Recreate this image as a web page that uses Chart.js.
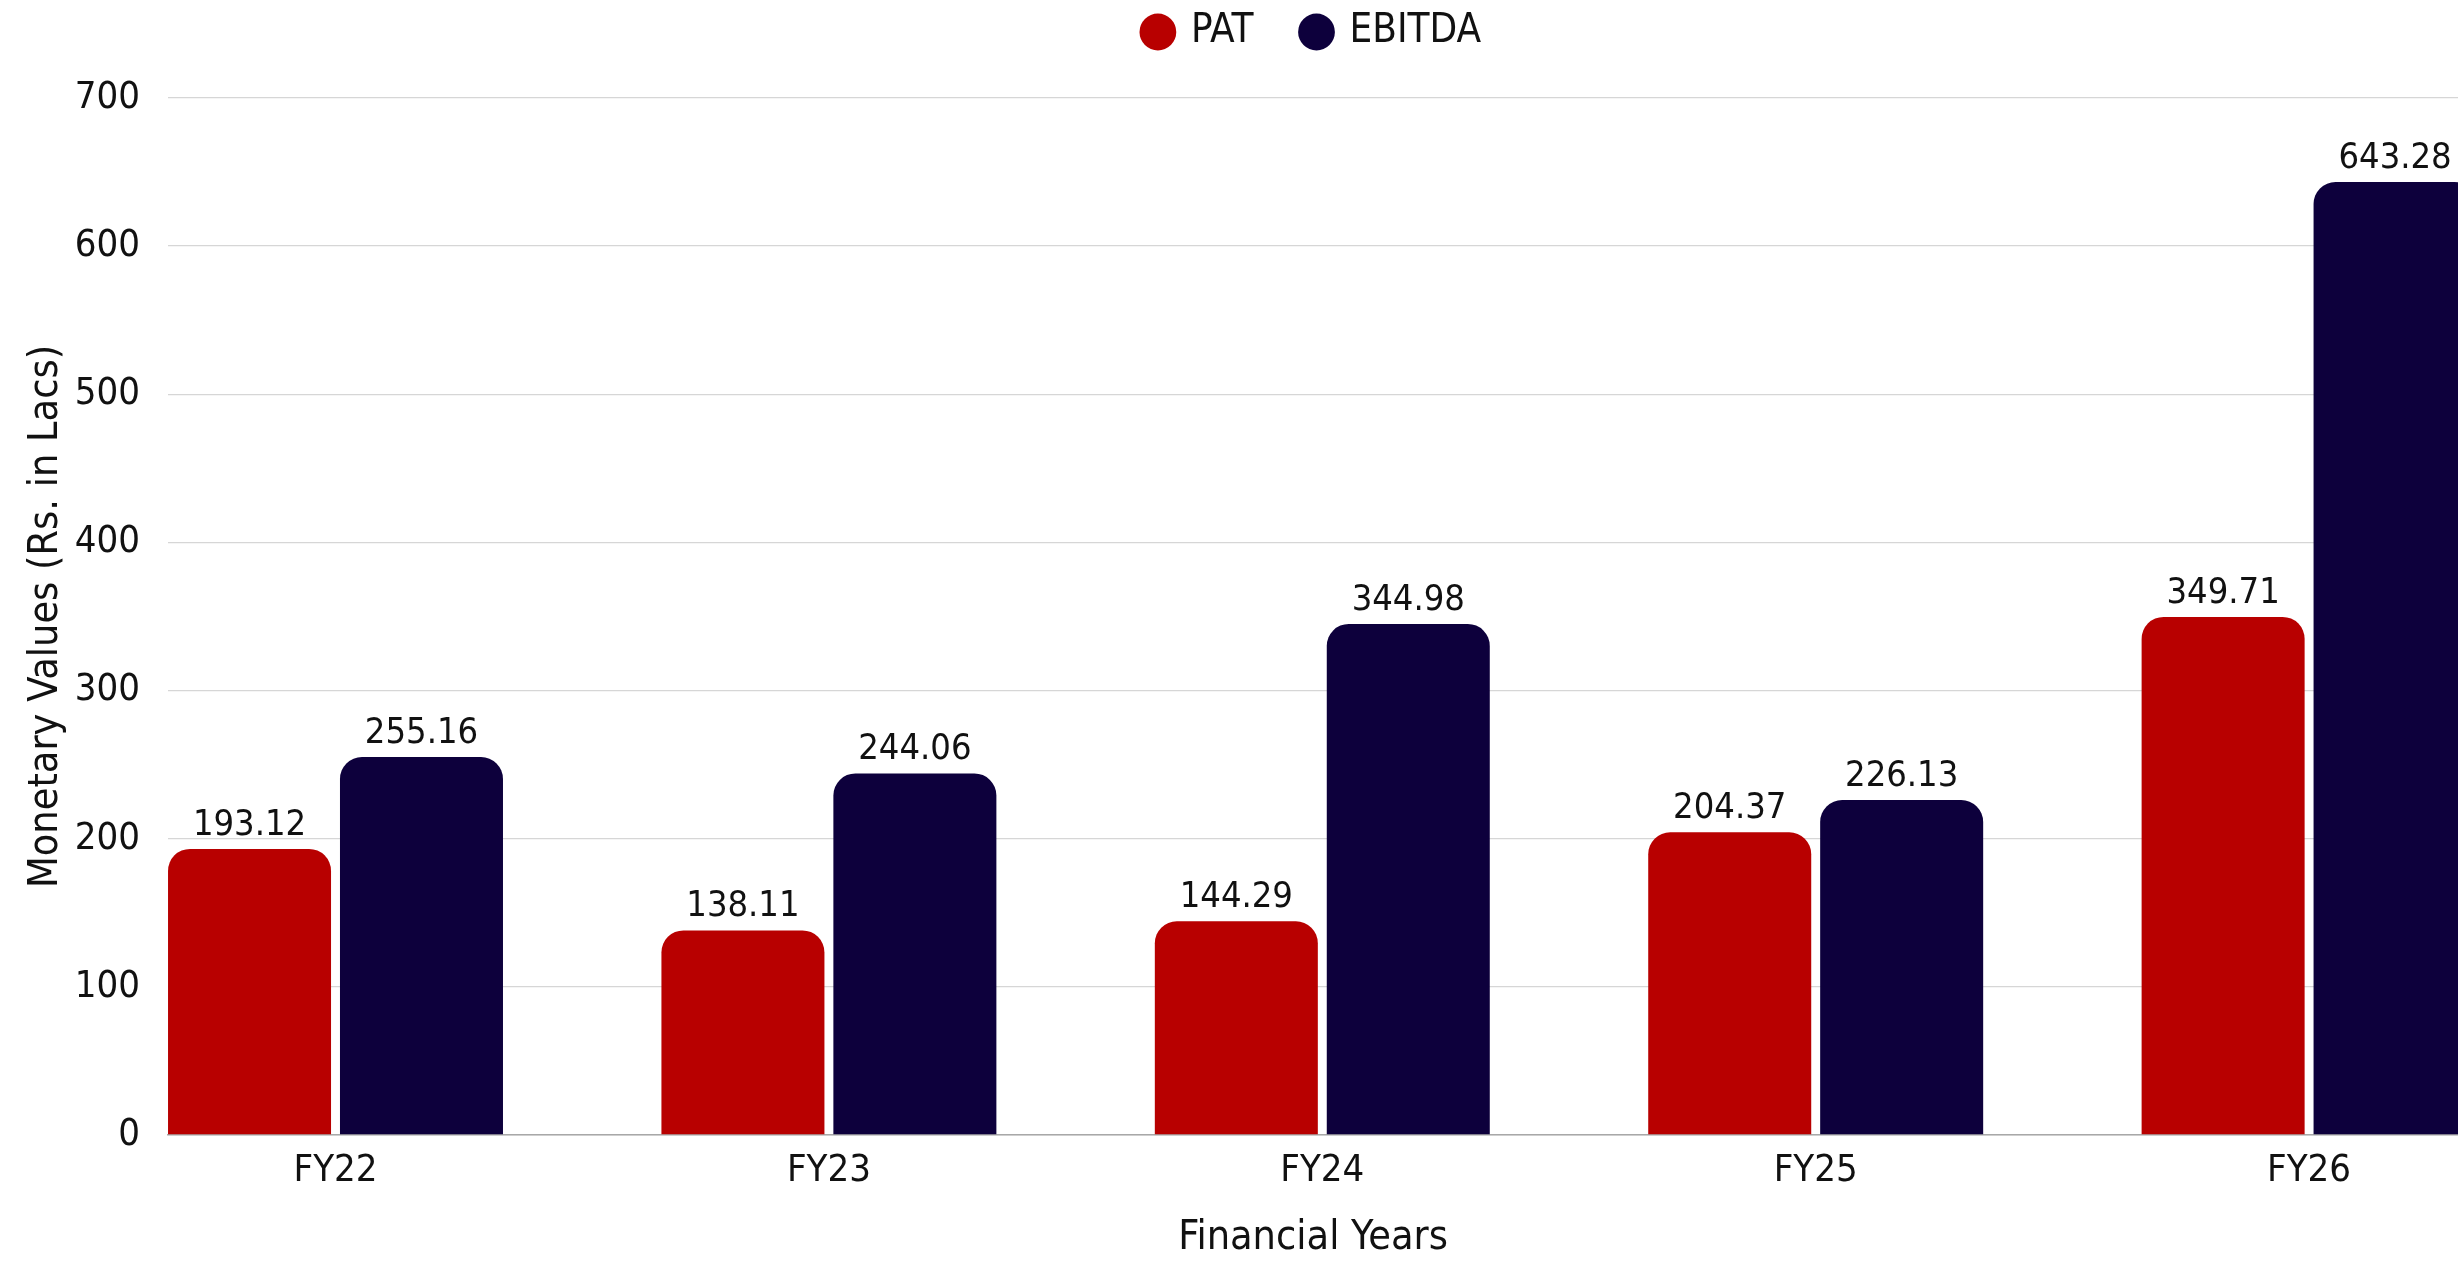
<!DOCTYPE html>
<html>
<head>
<meta charset="utf-8">
<script src="https://cdn.jsdelivr.net/npm/chart.js@4.4.1/dist/chart.umd.min.js"></script>
<style>
  html, body { margin: 0; padding: 0; background: #ffffff; overflow: hidden; }
  #wrap { width: 2458px; height: 1261px; position: relative; }
</style>
</head>
<body>
<div id="wrap"><canvas id="chart"></canvas></div>
<script>
// ---- data ----
const categories = ['FY22', 'FY23', 'FY24', 'FY25', 'FY26'];
const seriesNames = ['PAT', 'EBITDA'];
const patValues = [193.12, 138.11, 144.29, 204.37, 349.71];
const ebitdaValues = [255.16, 244.06, 344.98, 226.13, 643.28];
const yTickValues = [0, 100, 200, 300, 400, 500, 600, 700];
const xTitle = 'Financial Years';
const yTitle = 'Monetary Values (Rs. in Lacs)';

// ---- style ----
const FONT = "'Liberation Sans Narrow', 'DejaVu Sans Condensed', 'Liberation Sans', sans-serif";
const TEXT = '#111111';
const PAT_COLOR = '#b80000';
const EBITDA_COLOR = '#0d003c';

const valueLabels = {
  id: 'valueLabels',
  afterDatasetsDraw(chart) {
    const ctx = chart.ctx;
    ctx.save();
    ctx.font = '36px ' + FONT;
    ctx.fillStyle = TEXT;
    ctx.textAlign = 'center';
    ctx.textBaseline = 'alphabetic';
    chart.data.datasets.forEach((ds, di) => {
      const meta = chart.getDatasetMeta(di);
      meta.data.forEach((bar, i) => {
        ctx.fillText(ds.data[i].y.toFixed(2), bar.x, bar.y - 14);
      });
    });
    ctx.restore();
  }
};

const legendTweak = {
  id: 'legendTweak',
  beforeLayout(chart) {
    const lg = chart.legend;
    if (lg && !lg._tweaked) {
      const fit = lg.fit;
      lg.fit = function () { fit.call(this); this.height += 36; };
      lg._tweaked = true;
    }
  },
  afterLayout(chart) {
    const lg = chart.legend, ca = chart.chartArea;
    if (lg) { lg.left = ca.left; lg.right = ca.right; lg.width = ca.right - ca.left; }
  }
};

const toPoints = arr => arr.map((v, i) => ({ x: i, y: v }));

new Chart(document.getElementById('chart'), {
  type: 'bar',
  data: {
    datasets: [
      { label: seriesNames[0], data: toPoints(patValues), backgroundColor: PAT_COLOR,
        borderRadius: 22, borderSkipped: 'start', categoryPercentage: 0.697, barPercentage: 0.948 },
      { label: seriesNames[1], data: toPoints(ebitdaValues), backgroundColor: EBITDA_COLOR,
        borderRadius: 22, borderSkipped: 'start', categoryPercentage: 0.697, barPercentage: 0.948 }
    ]
  },
  options: {
    responsive: true,
    maintainAspectRatio: false,
    animation: false,
    devicePixelRatio: 1,
    layout: { padding: { top: -38, left: 0, right: 0, bottom: 0 } },
    plugins: {
      legend: {
        position: 'top',
        labels: {
          usePointStyle: true, pointStyle: 'circle', boxWidth: 26, boxHeight: 26,
          padding: 50, color: TEXT, font: { family: FONT, size: 40 }
        }
      },
      tooltip: { enabled: false }
    },
    scales: {
      x: {
        type: 'linear',
        offset: false,
        min: -0.3395,
        max: 4.3018,
        afterBuildTicks: s => { s.ticks = categories.map((c, i) => ({ value: i })); },
        afterFit: s => { s.height = 126; },
        grid: { display: true, offset: false, drawOnChartArea: false, drawTicks: false },
        border: { display: true, color: '#a8a8a8', width: 1.5 },
        ticks: {
          autoSkip: false, maxRotation: 0, padding: 13, color: TEXT,
          font: { family: FONT, size: 38 },
          callback: v => categories[v] !== undefined ? categories[v] : ''
        },
        title: { display: true, text: xTitle, color: TEXT, padding: { top: 0, bottom: 0 },
          font: { family: FONT, size: 41, lineHeight: 1.1 } }
      },
      y: {
        min: yTickValues[0],
        max: yTickValues[yTickValues.length - 1],
        afterBuildTicks: s => { s.ticks = yTickValues.map(v => ({ value: v })); },
        afterFit: s => { s.width = 168; },
        grid: { color: '#d6d6d6', lineWidth: 1.3, drawTicks: false },
        border: { display: false },
        ticks: { padding: 28, color: TEXT, font: { family: FONT, size: 38 } },
        title: { display: true, text: yTitle, color: TEXT, padding: { top: 24, bottom: 0 },
          font: { family: FONT, size: 41, lineHeight: 1.1 } }
      }
    }
  },
  plugins: [valueLabels, legendTweak]
});
</script>
</body>
</html>
